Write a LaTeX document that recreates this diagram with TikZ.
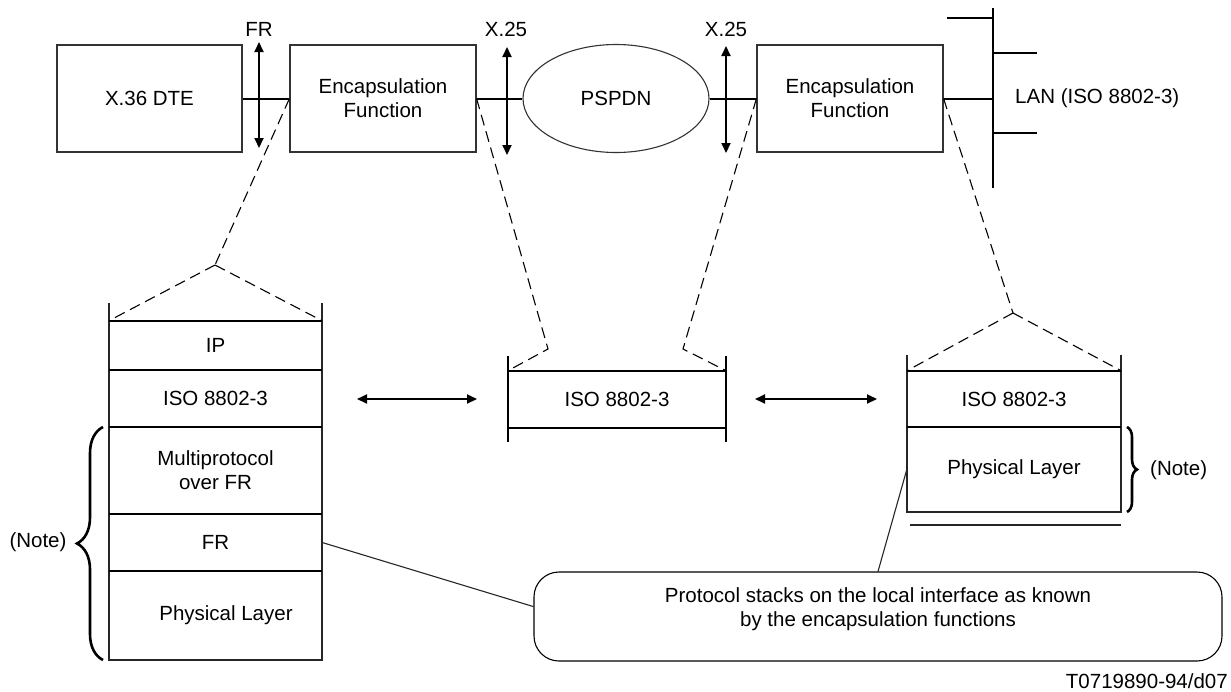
\documentclass[tikz,border=0pt]{standalone}
\usepackage{fontspec}
\setmainfont{Liberation Sans}
\usetikzlibrary{arrows.meta,shapes.geometric,decorations.pathreplacing,calc}
\begin{document}
\begin{tikzpicture}[x=1pt,y=-1pt,
  txt/.style={font=\fontsize{20.5}{24}\selectfont, inner sep=0pt, align=center},
  box/.style={txt, draw=black!80, line width=1.1pt},
  conn/.style={line width=2pt},
  thinl/.style={line width=1.1pt, draw=black!85},
  dashl/.style={line width=1.1pt, dash pattern=on 11pt off 6pt},
  dbl/.style={line width=2pt, {Triangle[length=10pt,width=9pt]}-{Triangle[length=10pt,width=9pt]}},
  brc/.style={decorate, line width=2.6pt}
]
\useasboundingbox (0,0) rectangle (1231,691);

% ---------- top row ----------
\node[box, minimum width=185, minimum height=107] (dte) at (149.5,98.5) {X.36 DTE};
\node[box, minimum width=186, minimum height=107] (enc1) at (383,98.5) {Encapsulation\\Function};
\node[box, ellipse, minimum width=186, minimum height=108] (pspdn) at (616,98.5) {PSPDN};
\node[box, minimum width=186, minimum height=107] (enc2) at (850,98.5) {Encapsulation\\Function};

% LAN bus
\coordinate (bustop) at (993,8);
\coordinate (busbot) at (993,188);
\draw[conn] (bustop) -- (busbot);
\coordinate (s1) at (947,18);
\coordinate (s2) at (1037,53);
\coordinate (s3) at (1037,133);
\draw[conn] (s1) -- (s1 -| bustop);
\draw[conn] (s2 -| bustop) -- (s2);
\draw[conn] (s3 -| bustop) -- (s3);
\node[txt, anchor=west] (lan) at (1015,98.5) {LAN (ISO 8802-3)};

\draw[conn] (dte.east) -- (enc1.west);
\draw[conn] (enc1.east) -- (pspdn.west);
\draw[conn] (pspdn.east) -- (enc2.west);
\draw[conn] (enc2.east) -- (enc2.east -| bustop);

% interface arrows
\coordinate (a1t) at (259,42);  \coordinate (a1b) at (259,148);
\coordinate (a2t) at (507,47);  \coordinate (a2b) at (507,155);
\coordinate (a3t) at (726,46);  \coordinate (a3b) at (726,153);
\draw[dbl] (a1t) -- (a1b);
\draw[dbl] (a2t) -- (a2b);
\draw[dbl] (a3t) -- (a3b);
\node[txt] (lblfr) at (259,29) {FR};
\node[txt] (lblx1) at (506,29) {X.25};
\node[txt] (lblx2) at (726,29) {X.25};

% ---------- left stack ----------
\draw[thinl] (109,303) -- (109,660) -- (322,660) -- (322,303);
\foreach \yy in {321,370,427,514,571} \draw[conn] (109,\yy) -- (322,\yy);
\node[txt, minimum width=213, minimum height=49] (lip) at (215.5,345.5) {IP};
\node[txt, minimum width=213, minimum height=57] (liso) at (215.5,398.5) {ISO 8802-3};
\node[txt, minimum width=213, minimum height=87] (lmp) at (215.5,470.5) {Multiprotocol\\over FR};
\node[txt, minimum width=213, minimum height=57] (lfrl) at (215.5,542.5) {FR};
\node[txt] (lphy) at (226,615.5) {Physical Layer};

\coordinate (apL) at (215,265);
\draw[dashl] (enc1.west) -- (apL);
\draw[dashl] (apL) -- (lip.north west);
\draw[dashl] (apL) -- (lip.north east);

\draw[brc, decoration={brace, amplitude=26pt, aspect=0.5}] (103,660) -- (103,427);
\node[txt] (noteL) at (38,542) {(Note)};

% ---------- middle stack ----------
\node[txt, minimum width=218, minimum height=57] (miso) at (617,399.5) {ISO 8802-3};
\draw[conn] (508,371) -- (726,371);
\draw[conn] (508,428) -- (726,428);
\draw[conn] (508,356) -- (508,442);
\draw[conn] (726,356) -- (726,442);
\coordinate (kL) at (548,349);
\coordinate (kR) at (683,349);
\draw[dashl] (enc1.east) -- (kL) -- (miso.north west);
\draw[dashl] (enc2.west) -- (kR) -- (miso.north east);

% horizontal arrows
\coordinate (h1l) at (357,399); \coordinate (h1r) at (477,399);
\coordinate (h2l) at (755,399); \coordinate (h2r) at (877,399);
\draw[dbl] (h1l) -- (h1r);
\draw[dbl] (h2l) -- (h2r);

% ---------- right stack ----------
\node[txt, minimum width=214, minimum height=56] (riso) at (1014,399) {ISO 8802-3};
\node[txt, minimum width=214, minimum height=85] (rphy) at (1014,469.5) {Physical Layer};
\draw[thinl] (907,355) -- (907,512) -- (1121,512) -- (1121,355);
\draw[conn] (907,371) -- (1121,371);
\draw[conn] (907,427) -- (1121,427);
\draw[thinl] (910,525) -- (1121,525);
\coordinate (apR) at (1013,313);
\draw[dashl] (enc2.east) -- (apR);
\draw[dashl] (apR) -- (riso.north west);
\draw[dashl] (apR) -- (riso.north east);

\draw[brc, decoration={brace, amplitude=10pt, aspect=0.5}] (1127,427) -- (1127,512);
\node[txt, anchor=west] (noteR) at (1150,470) {(Note)};

% ---------- callout ----------
\node[draw, line width=1.1pt, rounded corners=25pt, minimum width=688, minimum height=89, inner sep=0pt] (call) at (878,616.5) {};
\node[txt] (calltxt) at (878,609) {Protocol stacks on the local interface as known\\by the encapsulation functions};
\draw[thinl] (lfrl.east) -- ($(call.north west)!0.39!(call.south west)$);
\draw[thinl] (rphy.west) -- (call.north);

\node[txt, anchor=east] (code) at (1228,681) {T0719890-94/d07};
\end{tikzpicture}
\end{document}
